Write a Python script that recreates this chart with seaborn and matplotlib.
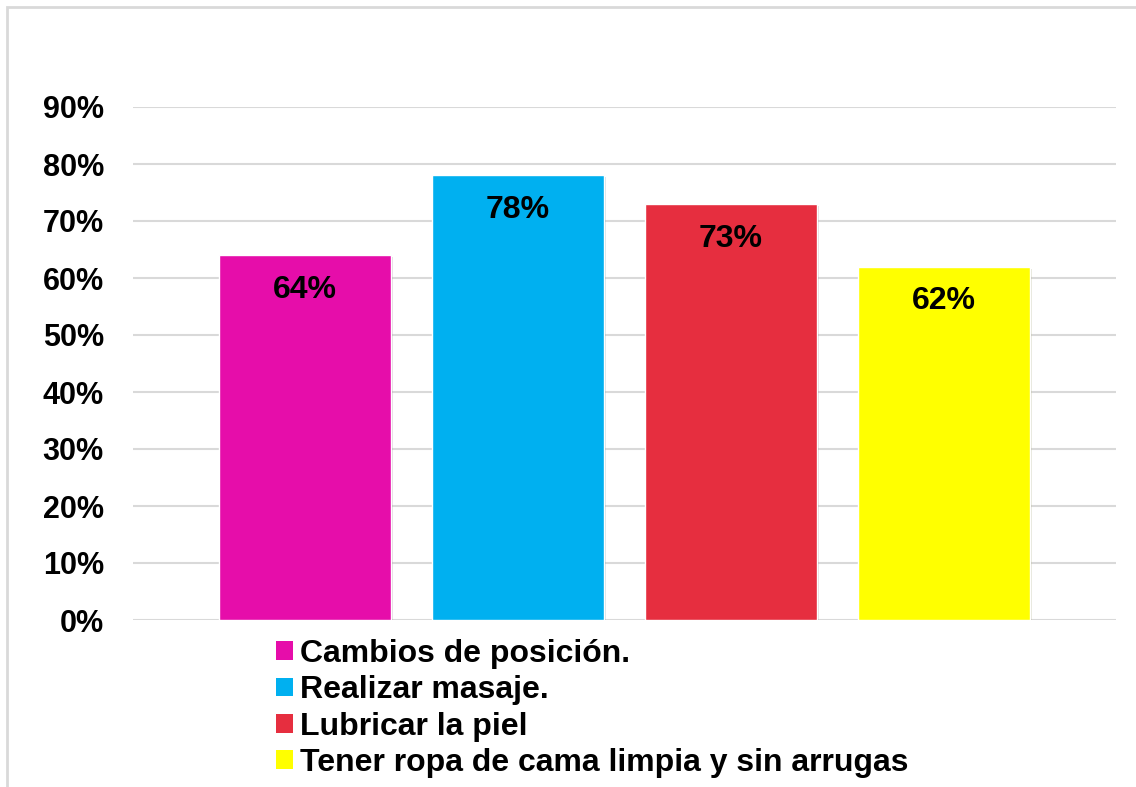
import matplotlib
matplotlib.use("Agg")
import matplotlib.pyplot as plt
import matplotlib.patheffects as pe
from matplotlib.patches import Patch, Rectangle
import seaborn as sns
import pandas as pd

# ====================
# DONNÉES
# ====================
categorias = ["Cambios de posición.", "Realizar masaje.", "Lubricar la piel",
              "Tener ropa de cama limpia y sin arrugas"]
valores = [0.64, 0.78, 0.73, 0.62]
colores = ["#E60DAA", "#00B0F0", "#E62E3F", "#FFFF00"]
ticks_y = [0, 0.1, 0.2, 0.3, 0.4, 0.5, 0.6, 0.7, 0.8, 0.9]

df = pd.DataFrame({"Categoria": categorias, "Valor": valores})

# ====================
# CONFIGURATION
# ====================
sns.set_theme(style="white")
plt.rcParams["font.family"] = ["Liberation Sans", "DejaVu Sans"]
plt.rcParams["font.weight"] = "bold"
plt.rcParams["text.color"] = "black"
plt.rcParams["ytick.color"] = "black"

fig = plt.figure(figsize=(11.36, 7.87), dpi=100)
ax = fig.add_axes([133 / 1136, 1 - 620 / 787, 983 / 1136, 513 / 787])

# cadre gris autour du graphique
fig.patches.append(Rectangle((7 / 1136, -0.05), 1.1, 1 - 7 / 787 + 0.05,
                             transform=fig.transFigure, fill=False,
                             edgecolor="#D9D9D9", linewidth=2, zorder=0))

sns.barplot(data=df, x="Categoria", y="Valor", hue="Categoria",
            palette=colores, dodge=False, width=0.8075, legend=False,
            saturation=1, ax=ax, zorder=3)

for bar in ax.patches:
    bar.set_path_effects([pe.SimplePatchShadow(offset=(1.5, -1.5), alpha=0.15),
                          pe.Normal()])

for i, v in enumerate(valores):
    ax.annotate(f"{v:.0%}", (i, v), xytext=(0, -25), textcoords="offset points",
                ha="center", va="center", fontsize=23, fontweight="bold",
                color="black", zorder=5)

ax.set_ylim(0, 0.9)
ax.set_xlim(-0.8075, 3.8075)
ax.set_yticks(ticks_y)
ax.set_yticklabels([f"{t:.0%}" for t in ticks_y], fontsize=22, fontweight="bold",
                   color="black")
ax.tick_params(axis="y", length=0, pad=21)
ax.set_xticks([])
ax.set_xlabel("")
ax.set_ylabel("")
ax.yaxis.grid(True, color="#D9D9D9", linewidth=1.5, zorder=0)
ax.set_axisbelow(True)
for s in ax.spines.values():
    s.set_visible(False)

handles = [Patch(facecolor=c, edgecolor="none") for c in colores]
leg = fig.legend(handles, categorias, loc="upper left",
                 bbox_to_anchor=(276 / 1136, 1 - 639 / 787), frameon=False,
                 prop={"size": 23, "weight": "bold"}, handlelength=0.53,
                 handleheight=0.53, handletextpad=0.22, labelspacing=0.2,
                 borderpad=0, borderaxespad=0)
for t in leg.get_texts():
    t.set_color("black")

fig.savefig("out.png", dpi=100)
